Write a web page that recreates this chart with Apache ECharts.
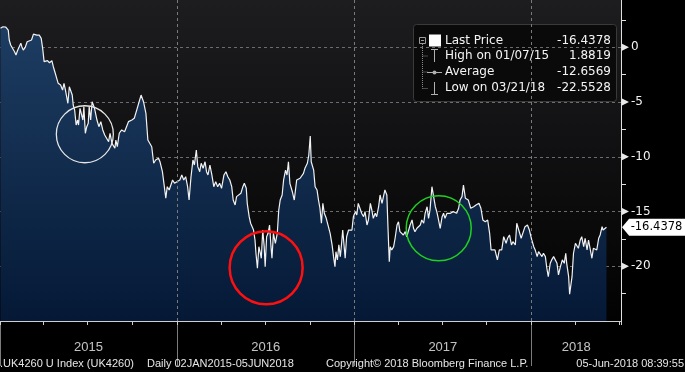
<!DOCTYPE html>
<html><head><meta charset="utf-8">
<script src="https://cdn.jsdelivr.net/npm/echarts@6/dist/echarts.min.js"></script>
<style>html,body{margin:0;padding:0;background:#000}#c{width:685px;height:372px}</style>
</head><body><div id="c"></div>
<script>
// ---- data (day offset from 2015-01-01, value) ----
const seriesStart = [2015, 0, 1];
const axisEnd = [2018, 6, 5];
const priceHistory = [
[1,1.74],[6,1.88],[8,1.76],[12,1.85],[17,1.58],[19,0.67],[22,0.21],[26,0.12],[30,-0.40],[33,-0.70],
[36,-0.31],[39,-0.49],[43,0.37],[45,0.06],[48,-0.25],[52,0.00],[56,0.51],[60,0.37],[65,0.67],[69,1.21],
[72,1.33],[76,1.12],[81,1.12],[85,0.82],[88,-0.09],[91,-1.31],[95,-1.41],[98,-1.22],[102,-1.41],[107,-1.22],
[110,-1.77],[114,-2.37],[117,-2.83],[120,-3.29],[125,-3.44],[129,-3.90],[132,-3.29],[135,-3.90],[138,-4.05],[140,-5.11],
[143,-3.60],[146,-3.44],[149,-4.36],[151,-5.27],[154,-5.73],[157,-7.10],[160,-6.64],[162,-7.10],[165,-5.57],[168,-5.42],
[171,-6.64],[173,-5.42],[176,-7.85],[179,-7.25],[182,-6.94],[184,-5.42],[187,-6.64],[190,-4.97],[193,-4.81],[195,-5.57],
[200,-6.64],[204,-7.25],[208,-6.79],[212,-7.55],[216,-8.01],[220,-8.01],[224,-8.62],[227,-7.85],[231,-8.77],[234,-8.62],
[237,-9.22],[239,-8.47],[242,-9.08],[246,-7.85],
[251,-7.55],[257,-7.71],[261,-7.85],[265,-6.79],[272,-6.64],[277,-6.48],[282,-5.73],[287,-4.97],[291,-4.36],[296,-4.97],
[301,-6.03],[305,-8.47],[309,-8.31],[313,-9.08],[317,-10.59],[321,-10.29],[327,-10.14],[330,-10.45],[335,-11.36],[339,-12.73],
[342,-13.79],[345,-12.73],[349,-13.03],[353,-12.88],[356,-12.12],[360,-12.42],[365,-12.27],[371,-12.12],[375,-11.66],[379,-12.12],
[383,-11.82],[387,-12.73],[390,-13.95],[394,-11.82],[398,-10.29],[401,-10.75],[405,-9.38],[408,-10.90],[412,-11.36],[415,-10.59],
[419,-11.05],[423,-10.45],[426,-11.36],[429,-11.66],[433,-10.75],[437,-11.66],[441,-12.73],[445,-12.27],[449,-12.73],[453,-12.42],
[457,-12.88],[462,-11.66],[466,-11.36],[470,-11.82],[474,-12.12],
[478,-12.73],[481,-13.95],[485,-14.40],[488,-13.64],[492,-13.49],[497,-13.33],[501,-12.73],[504,-12.42],[508,-12.88],[510,-14.25],
[514,-15.47],[517,-16.07],[520,-15.93],[523,-16.69],[526,-17.60],[528,-18.81],[531,-20.18],[534,-18.21],[537,-18.81],[539,-19.27],
[542,-16.69],[545,-18.21],[547,-20.04],[550,-17.30],[553,-16.99],[556,-16.23],[559,-18.21],[561,-19.27],[564,-16.99],[568,-17.90],
[572,-16.99],[575,-14.86],[578,-13.95],[582,-13.49],[585,-12.12],[589,-11.21],[592,-11.66],[595,-10.45],[598,-12.42],[603,-13.19],
[607,-13.95],[609,-13.79],[612,-12.12],[616,-12.27],[619,-11.96],[623,-12.12],[626,-11.51],[629,-11.05],[634,-10.59],[637,-9.84],
[640,-8.10],[642,-10.45],[647,-11.21],[650,-12.73],[654,-13.03],[657,-13.95],[660,-14.70],[663,-16.07],[666,-14.25],[669,-15.16],
[673,-15.62],[677,-15.62],[681,-16.99],[685,-18.05],[688,-19.12],[691,-20.04],[693,-18.67],[696,-19.42],[699,-18.05],[702,-19.12],
[704,-18.21],[707,-16.69],[710,-16.53],
[712,-19.27],[715,-17.30],[719,-16.69],[722,-16.84],[726,-16.69],[729,-15.47],[733,-15.01],[736,-15.31],[739,-14.25],[743,-14.10],
[746,-15.16],[750,-15.47],[753,-15.01],[757,-16.23],[760,-15.77],[764,-14.25],[767,-14.86],[770,-15.62],[774,-15.16],[777,-15.47],
[781,-14.56],[784,-13.49],[788,-14.25],[791,-14.25],[794,-13.03],[798,-13.49],[800,-16.07],[803,-19.58],[805,-18.21],[808,-18.51],
[812,-18.21],[815,-17.44],[819,-16.23],[822,-15.93],[825,-16.84],[829,-16.69],[832,-17.14],[836,-16.84],[839,-17.30],[843,-17.44],
[846,-16.23],[850,-15.77],[853,-16.53],[856,-16.84],[860,-16.53],[863,-16.38],[867,-16.23],[870,-15.77],[874,-16.07],[877,-15.16],
[881,-14.56],[884,-15.62],[887,-14.86],[891,-12.73],[894,-12.88],[898,-14.56],[901,-15.01],[904,-15.62],[908,-16.53],[912,-15.47],
[915,-15.16],[918,-15.62],[922,-15.16],[925,-15.31],[929,-15.16],[932,-15.31],[935,-15.01],[939,-14.86],[942,-15.16],[946,-14.70],
[949,-13.95],[953,-13.64],[956,-12.58],
[960,-13.79],[966,-13.95],[971,-14.70],[977,-14.56],[982,-14.40],[988,-14.25],[992,-14.70],[996,-15.77],[1001,-15.93],[1006,-15.77],
[1010,-16.99],[1013,-18.51],[1017,-18.67],[1021,-18.51],[1026,-19.42],[1030,-18.51],[1035,-18.51],[1039,-17.30],[1044,-17.90],[1047,-17.44],
[1051,-17.14],[1055,-18.05],[1058,-17.75],[1063,-18.05],[1066,-16.07],[1070,-16.23],[1075,-17.44],[1079,-17.60],[1083,-16.38],[1088,-16.23],
[1092,-16.69],[1097,-17.60],[1101,-18.21],[1104,-18.51],[1108,-19.12],[1111,-18.67],[1114,-18.51],[1118,-19.12],[1121,-18.81],[1125,-19.12],
[1128,-20.18],[1131,-20.95],[1135,-19.73],[1138,-19.42],[1142,-19.12],[1145,-19.27],[1149,-19.73],[1152,-20.79],[1156,-20.04],[1160,-19.42],
[1164,-19.73],[1167,-18.81],[1169,-19.73],[1173,-20.95],[1175,-22.55],[1180,-20.95],[1183,-18.81],[1187,-17.90],[1190,-17.75],[1193,-18.36],
[1197,-17.60],[1200,-17.30],[1204,-18.21],[1207,-17.44],[1211,-18.51],[1214,-17.60],[1218,-17.60],[1221,-19.27],[1224,-18.36],[1228,-18.36],
[1231,-18.51],[1235,-17.44],[1238,-17.14],[1242,-16.38],[1244,-16.69],[1251,-16.4378]
];
const years = [2015, 2016, 2017, 2018];
const yTickValues = [0, -5, -10, -15, -20];
const lastPrice = -16.4378;
const legendLabels = ['Last Price', 'High on 01/07/15', 'Average', 'Low on 03/21/18'];
const legendValues = ['-16.4378', '1.8819', '-12.6569', '-22.5528'];
// highlight circles: [day offset, value, diameter, colour, line width]
const highlightCircles = [
  [175, -7.94, 57, '#e6e6e6', 1.3],
  [549, -20.14, 73, '#ff1010', 2.5],
  [905, -16.53, 65, '#1fd11f', 1.5]
];
const footerLeft1 = '.UK4260 U Index (UK4260)';
const footerLeft2 = 'Daily 02JAN2015-05JUN2018';
const footerMid = 'Copyright\u00a9 2018 Bloomberg Finance L.P.';
const footerRight = '05-Jun-2018 08:39:55';

// ---- build ----
const toTime = d => new Date(seriesStart[0], seriesStart[1], seriesStart[2] + d).getTime();
const xMin = toTime(0);
const xMax = new Date(axisEnd[0], axisEnd[1], axisEnd[2]).getTime();
const DAY = 86400000;
const lineData = priceHistory.map(p => [toTime(p[0]), p[1]]);

const yearLabelData = years.map(y => {
  const s = new Date(y, 0, 1).getTime();
  const e = Math.min(new Date(y + 1, 0, 1).getTime(), xMax);
  return { name: String(y), value: [(s + e) / 2, 0] };
});
const yearLines = years.slice(1).map(y => ({ xAxis: new Date(y, 0, 1).getTime() }));

const markPoints = [];
yTickValues.forEach(v => markPoints.push({
  coord: [xMax, v], symbol: 'path://M0,0L10,5L0,10Z', symbolSize: [7, 7], symbolOffset: [4.5, 0],
  itemStyle: { color: '#e8e8e8' }, label: { show: false }
}));
markPoints.push({
  coord: [xMax, lastPrice], symbol: 'path://M0,8.5L7,0L62,0L62,17L7,17Z', symbolSize: [63, 17], symbolOffset: [32.5, 0],
  itemStyle: { color: '#ffffff' },
  label: { show: true, position: 'inside', formatter: lastPrice.toFixed(4), color: '#000', fontFamily: 'DejaVu Sans', fontSize: 11.5, offset: [3, 0] }
});
highlightCircles.forEach(c => markPoints.push({
  coord: [toTime(c[0]), c[1]], symbol: 'circle', symbolSize: c[2],
  itemStyle: { color: 'rgba(0,0,0,0)', borderColor: c[3], borderWidth: c[4] }, label: { show: false }
}));

const legendFont = '12px "DejaVu Sans"';
const rowY = [40.5, 56, 72, 88];
const g = [];
g.push({ type: 'rect', z: -10, shape: { x: 0, y: 0, width: 621, height: 321 },
  style: { fill: { type: 'linear', x: 0, y: 0, x2: 0, y2: 1, colorStops: [{ offset: 0, color: '#1d1d1f' }, { offset: 1, color: '#020203' }] } } });
g.push({ type: 'rect', z: -5, shape: { x: 413.5, y: 24.5, width: 203, height: 77, r: 3 },
  style: { fill: '#0a0a0b', stroke: '#3a3a3a', lineWidth: 1 } });
// tree icons
g.push({ type: 'rect', z: 50, shape: { x: 419.5, y: 37.5, width: 6, height: 6 }, style: { fill: 'none', stroke: '#9a9a9a', lineWidth: 1 } });
g.push({ type: 'line', z: 50, shape: { x1: 421, y1: 40.5, x2: 424, y2: 40.5 }, style: { stroke: '#9a9a9a', lineWidth: 1 } });
g.push({ type: 'line', z: 50, shape: { x1: 422.5, y1: 44, x2: 422.5, y2: 88.5 }, style: { stroke: '#8a8a8a', lineWidth: 1, lineDash: [1, 1] } });
[56, 72, 88.5].forEach(y => g.push({ type: 'line', z: 50, shape: { x1: 422.5, y1: y, x2: 427.5, y2: y }, style: { stroke: '#8a8a8a', lineWidth: 1, lineDash: [1, 1] } }));
g.push({ type: 'rect', z: 50, shape: { x: 429, y: 34.5, width: 12, height: 12 }, style: { fill: '#ffffff' } });
g.push({ type: 'line', z: 50, shape: { x1: 431, y1: 49.5, x2: 438, y2: 49.5 }, style: { stroke: '#b0b0b0', lineWidth: 1 } });
g.push({ type: 'line', z: 50, shape: { x1: 434.5, y1: 49.5, x2: 434.5, y2: 62 }, style: { stroke: '#b0b0b0', lineWidth: 1 } });
g.push({ type: 'line', z: 50, shape: { x1: 427, y1: 72.5, x2: 442, y2: 72.5 }, style: { stroke: '#b0b0b0', lineWidth: 1 } });
g.push({ type: 'circle', z: 51, shape: { cx: 434.5, cy: 72.5, r: 2 }, style: { fill: '#b0b0b0' } });
g.push({ type: 'line', z: 50, shape: { x1: 434.5, y1: 82, x2: 434.5, y2: 94.5 }, style: { stroke: '#b0b0b0', lineWidth: 1 } });
g.push({ type: 'line', z: 50, shape: { x1: 431, y1: 94.5, x2: 438, y2: 94.5 }, style: { stroke: '#b0b0b0', lineWidth: 1 } });
legendLabels.forEach((t, i) => {
  g.push({ type: 'text', z: 50, style: { x: 445, y: rowY[i], text: t, font: legendFont, fill: '#f4f4f4', verticalAlign: 'middle', align: 'left' } });
  g.push({ type: 'text', z: 50, style: { x: 611, y: rowY[i], text: legendValues[i], font: legendFont, fill: '#f4f4f4', verticalAlign: 'middle', align: 'right' } });
});
const footFont = '11px "Liberation Sans"';
g.push({ type: 'text', z: 50, style: { x: 0, y: 364, text: footerLeft1, font: footFont, fill: '#e6e6e6', verticalAlign: 'middle', align: 'left' } });
g.push({ type: 'text', z: 50, style: { x: 147, y: 364, text: footerLeft2, font: footFont, fill: '#e6e6e6', verticalAlign: 'middle', align: 'left' } });
g.push({ type: 'text', z: 50, style: { x: 326, y: 364, text: footerMid, font: footFont, fill: '#e6e6e6', verticalAlign: 'middle', align: 'left' } });
g.push({ type: 'text', z: 50, style: { x: 684, y: 364, text: footerRight, font: footFont, fill: '#e6e6e6', verticalAlign: 'middle', align: 'right' } });

const chart = echarts.init(document.getElementById('c'), null, { renderer: 'canvas' });
chart.setOption({
  backgroundColor: '#000000',
  animation: false,
  grid: [
    { left: 0, right: 64, top: -7.4, height: 328.4, containLabel: false, outerBoundsMode: 'none' },
    { left: 0, right: 64, top: 321, height: 45, containLabel: false, outerBoundsMode: 'none' }
  ],
  xAxis: [
    { type: 'time', gridIndex: 0, min: xMin, max: xMax, minInterval: 85 * DAY, maxInterval: 95 * DAY, splitNumber: 14,
      axisLine: { show: true, onZero: false, lineStyle: { color: '#d0d0d0', width: 1 } },
      axisTick: { show: true, length: 4, lineStyle: { color: '#d0d0d0' } },
      axisLabel: { show: false }, splitLine: { show: false } },
    { type: 'time', gridIndex: 1, min: xMin, max: xMax, minInterval: 360 * DAY,
      axisLine: { show: false }, axisTick: { show: false }, axisLabel: { show: false },
      splitLine: { show: true, showMinLine: false, showMaxLine: false, lineStyle: { color: '#7c7c7c', width: 1, type: 'solid' } } }
  ],
  yAxis: [
    { type: 'value', gridIndex: 0, position: 'right', min: -25, max: 5, interval: 5,
      axisLine: { show: true, lineStyle: { color: '#e0e0e0', width: 1 } },
      axisTick: { show: false },
      minorTick: { show: true, splitNumber: 2, length: 5, lineStyle: { color: '#e0e0e0' } },
      axisLabel: { show: true, margin: 10, color: '#f2f2f2', fontFamily: 'DejaVu Sans', fontSize: 12, showMinLabel: false, showMaxLabel: false },
      splitLine: { show: true, showMinLine: false, showMaxLine: false, lineStyle: { color: '#6c6c6c', width: 1, type: [3, 3] } } },
    { type: 'value', gridIndex: 1, min: -1, max: 1, show: false }
  ],
  series: [
    { type: 'line', xAxisIndex: 0, yAxisIndex: 0, data: lineData, symbol: 'none', showSymbol: false,
      lineStyle: { color: '#f2f2f2', width: 1.2 },
      areaStyle: { origin: 'start', opacity: 1,
        color: new echarts.graphic.LinearGradient(0, 0, 0, 321, [{ offset: 0, color: '#1f4066' }, { offset: 1, color: '#051936' }], true) },
      markLine: { silent: true, symbol: ['none', 'none'], label: { show: false },
        lineStyle: { color: '#7a7a7a', type: [3, 3], width: 1 }, data: yearLines },
      markPoint: { silent: true, data: markPoints }
    },
    { type: 'scatter', xAxisIndex: 1, yAxisIndex: 1, data: yearLabelData, symbolSize: 1,
      itemStyle: { color: 'rgba(0,0,0,0)' }, silent: true,
      label: { show: true, position: 'inside', formatter: '{b}', color: '#f2f2f2', fontFamily: 'Liberation Sans', fontSize: 13, offset: [0, 3.5] } }
  ],
  graphic: { elements: g }
});
</script></body></html>
